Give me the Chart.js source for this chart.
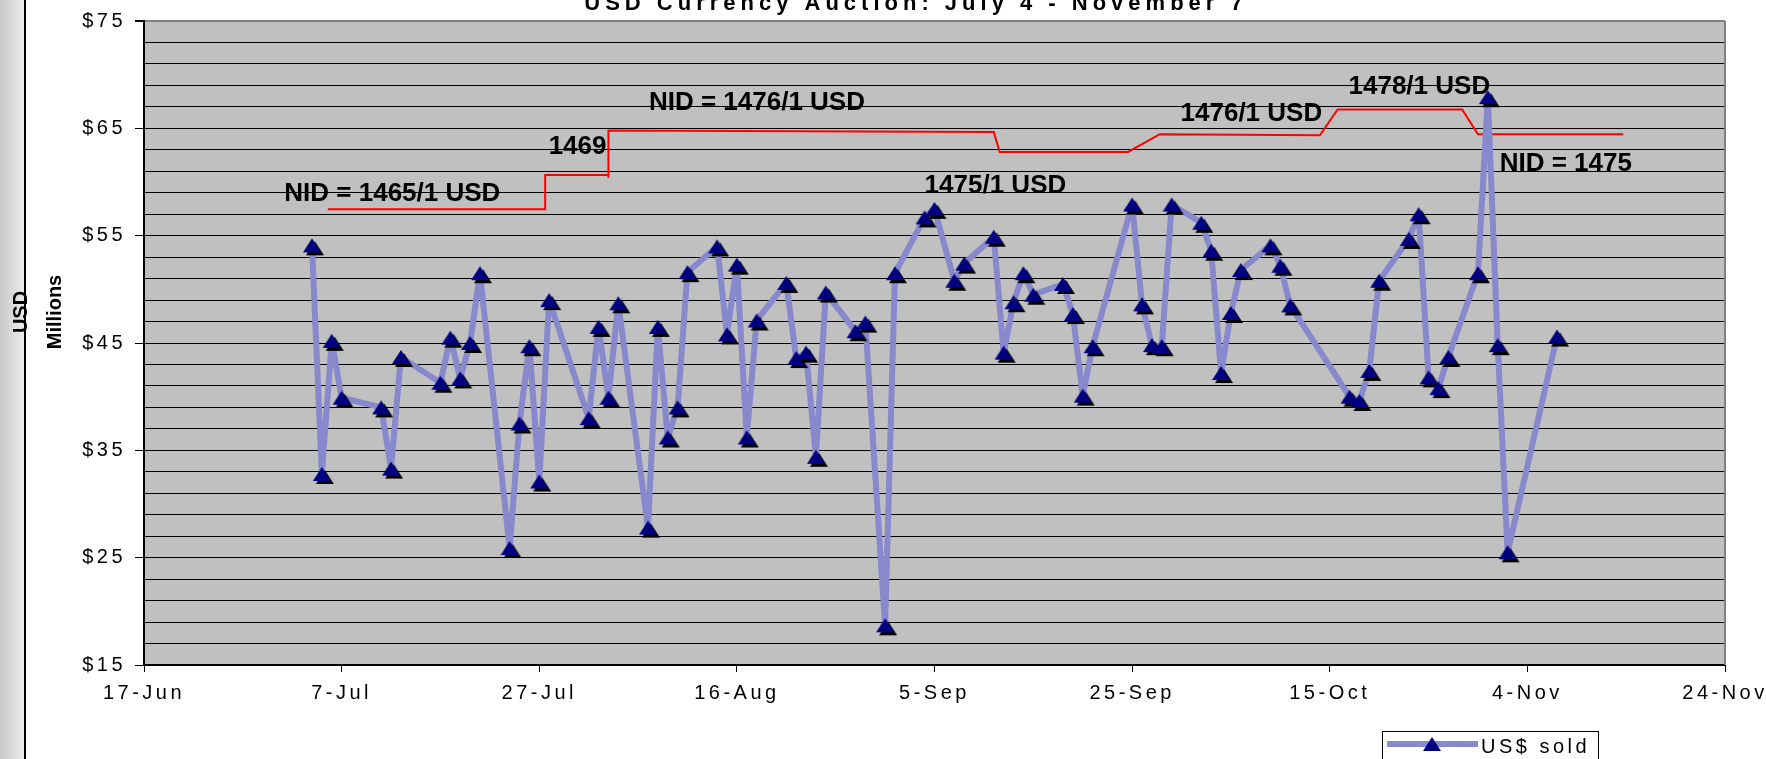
<!DOCTYPE html>
<html>
<head>
<meta charset="utf-8">
<title>USD Currency Auction</title>
<script src="https://cdn.jsdelivr.net/npm/chart.js@4"></script>
<style>
  html, body { margin: 0; padding: 0; background: #fff; }
  canvas { display: block; }
</style>
</head>
<body>
<canvas id="chartAuction" width="1766" height="759"></canvas>
<script>
const startDate = "2005-06-17";
const xTickLabels = ["17-Jun", "7-Jul", "27-Jul", "16-Aug", "5-Sep", "25-Sep", "15-Oct", "4-Nov", "24-Nov"];
const yLabelValues = [15, 25, 35, 45, 55, 65, 75];

const auctionDates = [
  "2005-07-04", "2005-07-05", "2005-07-06", "2005-07-07", "2005-07-11", "2005-07-12", "2005-07-13",
  "2005-07-17", "2005-07-18", "2005-07-19", "2005-07-20", "2005-07-21",
  "2005-07-24", "2005-07-25", "2005-07-26", "2005-07-27", "2005-07-28",
  "2005-08-01", "2005-08-02", "2005-08-03", "2005-08-04",
  "2005-08-07", "2005-08-08", "2005-08-09", "2005-08-10", "2005-08-11",
  "2005-08-14", "2005-08-15", "2005-08-16", "2005-08-17", "2005-08-18",
  "2005-08-21", "2005-08-22", "2005-08-23", "2005-08-24", "2005-08-25",
  "2005-08-28", "2005-08-29", "2005-08-31", "2005-09-01",
  "2005-09-04", "2005-09-05", "2005-09-07", "2005-09-08",
  "2005-09-11", "2005-09-12", "2005-09-13", "2005-09-14", "2005-09-15",
  "2005-09-18", "2005-09-19", "2005-09-20", "2005-09-21",
  "2005-09-25", "2005-09-26", "2005-09-27", "2005-09-28", "2005-09-29",
  "2005-10-02", "2005-10-03", "2005-10-04", "2005-10-05", "2005-10-06",
  "2005-10-09", "2005-10-10", "2005-10-11",
  "2005-10-17", "2005-10-18", "2005-10-19", "2005-10-20",
  "2005-10-23", "2005-10-24", "2005-10-25", "2005-10-26", "2005-10-27",
  "2005-10-30", "2005-10-31", "2005-11-01", "2005-11-02", "2005-11-07"
];
// US$ sold, millions
const usdSold = [
  54.1, 32.8, 45.2, 39.9, 39.0, 33.3, 43.7,
  41.3, 45.5, 41.7, 45.0, 51.5,
  25.9, 37.5, 44.7, 32.1, 49.0,
  38.0, 46.5, 39.9, 48.7,
  27.8, 46.5, 36.2, 39.0, 51.6,
  54.0, 45.8, 52.3, 36.2, 47.1,
  50.6, 43.6, 44.1, 34.4, 49.7,
  46.1, 46.9, 18.7, 51.5,
  56.7, 57.5, 50.8, 52.4,
  54.9, 44.1, 48.8, 51.5, 49.5,
  50.5, 47.7, 40.1, 44.7,
  57.9, 48.6, 44.8, 44.7, 57.9,
  56.2, 53.6, 42.2, 47.8, 51.8,
  54.1, 52.2, 48.5,
  40.0, 39.6, 42.4, 50.8,
  54.7, 57.0, 41.8, 40.8, 43.7,
  51.5, 67.9, 44.8, 25.5, 45.6
];

// hand drawn NID rate line: days after 17-Jun, level on the $ axis
const nidDays = [18.6, 40.6, 40.6, 47.0, 47.0, 47.0, 86.0, 86.6, 99.6, 102.8, 119.0, 120.8, 133.4, 135.0, 149.7];
const nidLevels = [57.45, 57.45, 60.65, 60.65, 60.4, 64.8, 64.65, 62.8, 62.8, 64.45, 64.35, 66.75, 66.75, 64.45, 64.45];

const nidNotes = ["NID = 1465/1 USD", "1469", "NID = 1476/1 USD", "1475/1 USD", "1476/1 USD", "1478/1 USD", "NID = 1475"];
const noteDays = [14.2, 40.95, 51.1, 79.0, 104.9, 121.9, 137.2];
const noteLevels = [58.25, 62.6, 66.73, 59.0, 65.65, 68.18, 61.0];

const dayMs = 86400000;
const toDay = (d) => (Date.parse(d) - Date.parse(startDate)) / dayMs;

function makeMarker(shadow) {
  const c = document.createElement("canvas");
  c.width = 32;
  c.height = 32;
  const g = c.getContext("2d");
  const tri = (dx, dy, color) => {
    g.fillStyle = color;
    g.beginPath();
    g.moveTo(16 + dx, 9 + dy);
    g.lineTo(25 + dx, 23 + dy);
    g.lineTo(7 + dx, 23 + dy);
    g.closePath();
    g.fill();
  };
  if (shadow) tri(3, 3, "#000");
  tri(0, 0, "#000080");
  return c;
}

const FONT = '"Liberation Sans", Arial, sans-serif';
const TICK_SPACING = "3.5px";

const decorPlugin = {
  id: "decor",
  beforeLayout(chart) {
    chart.ctx.letterSpacing = TICK_SPACING;
  },
  beforeDraw(chart) {
    const { ctx, chartArea: a } = chart;
    ctx.save();
    ctx.fillStyle = "#fff";
    ctx.fillRect(0, 0, chart.width, chart.height);
    const grad = ctx.createLinearGradient(0, 0, 24, 0);
    grad.addColorStop(0, "#c8c8c8");
    grad.addColorStop(1, "#ebebeb");
    ctx.fillStyle = grad;
    ctx.fillRect(0, 0, 24, chart.height);
    ctx.fillStyle = "#000";
    ctx.fillRect(24, 0, 2, chart.height);
    ctx.fillStyle = "#c0c0c0";
    ctx.fillRect(a.left, a.top, a.right - a.left, a.bottom - a.top);
    ctx.restore();
    ctx.letterSpacing = TICK_SPACING;
  },
  afterDraw(chart) {
    const { ctx, chartArea: a, scales } = chart;
    ctx.save();
    // right edge of plot
    ctx.strokeStyle = "#808080";
    ctx.lineWidth = 2;
    ctx.beginPath();
    ctx.moveTo(a.right, a.top);
    ctx.lineTo(a.right, a.bottom);
    ctx.stroke();

    ctx.fillStyle = "#000";
    ctx.letterSpacing = "0px";
    ctx.textAlign = "left";
    ctx.textBaseline = "alphabetic";
    ctx.font = "bold 26px " + FONT;
    nidNotes.forEach((t, i) => {
      ctx.fillText(t, scales.x.getPixelForValue(noteDays[i]), scales.y.getPixelForValue(noteLevels[i]));
    });

    // axis titles
    ctx.font = "bold 20px " + FONT;
    ctx.textAlign = "center";
    ctx.textBaseline = "middle";
    [["USD", 21], ["Millions", 55]].forEach(([t, x]) => {
      ctx.save();
      ctx.translate(x, 312);
      ctx.rotate(-Math.PI / 2);
      ctx.fillText(t, 0, 0);
      ctx.restore();
    });

    // title
    ctx.font = "bold 22px " + FONT;
    ctx.letterSpacing = "5px";
    ctx.textBaseline = "alphabetic";
    ctx.fillText("USD Currency Auction: July 4 - November 7", 916, 10);

    // legend
    ctx.fillStyle = "#fff";
    ctx.fillRect(1382, 731, 216, 50);
    ctx.strokeStyle = "#000";
    ctx.lineWidth = 1;
    ctx.strokeRect(1382.5, 731.5, 216, 50);
    ctx.strokeStyle = "#8888cc";
    ctx.lineWidth = 6;
    ctx.beginPath();
    ctx.moveTo(1387, 744);
    ctx.lineTo(1478, 744);
    ctx.stroke();
    ctx.drawImage(legendMarker, 1432 - 16, 744 - 16);
    ctx.fillStyle = "#000";
    ctx.font = "20px " + FONT;
    ctx.letterSpacing = "3.5px";
    ctx.textAlign = "left";
    ctx.fillText("US$ sold", 1481, 753);
    ctx.restore();
  }
};

const marker = makeMarker(true);
const legendMarker = makeMarker(false);

document.addEventListener("DOMContentLoaded", () => {
  const ctx = document.getElementById("chartAuction").getContext("2d");
  Chart.defaults.font.family = FONT;
  Chart.defaults.color = "#000";

  new Chart(ctx, {
    type: "line",
    data: {
      datasets: [
        {
          label: "US$ sold",
          data: auctionDates.map((d, i) => ({ x: toDay(d), y: usdSold[i] })),
          borderColor: "#8888cc",
          borderWidth: 6,
          borderJoinStyle: "round",
          pointStyle: marker,
          pointRadius: 9,
          tension: 0,
        },
        {
          label: "NID",
          data: nidDays.map((d, i) => ({ x: d, y: nidLevels[i] })),
          borderColor: "#ff0000",
          borderWidth: 2,
          pointRadius: 0,
          tension: 0,
        },
      ],
    },
    options: {
      responsive: false,
      devicePixelRatio: 1,
      animation: false,
      layout: { padding: { top: 20, right: 41, left: 0, bottom: 0 } },
      plugins: {
        legend: { display: false },
        tooltip: { enabled: false },
      },
      scales: {
        x: {
          type: "linear",
          min: 0,
          max: 160,
          afterFit: (s) => {
            s.height = 94;
            s.paddingLeft = 0;
            s.paddingRight = 0;
          },
          grid: { drawOnChartArea: false, tickLength: 7, color: "#000", tickColor: "#000" },
          border: { color: "#000", width: 2 },
          ticks: {
            stepSize: 20,
            autoSkip: false,
            maxRotation: 0,
            padding: 9,
            font: { size: 20 },
            callback: (v, i) => xTickLabels[i],
          },
        },
        y: {
          min: 15,
          max: 75,
          afterFit: (s) => { s.width = 144; },
          afterBuildTicks: (s) => {
            const t = [];
            for (let v = yLabelValues[0]; v <= yLabelValues[yLabelValues.length - 1]; v += 2) t.push({ value: v });
            s.ticks = t;
          },
          grid: {
            tickLength: 9,
            lineWidth: (c) => (c.tick && c.tick.value === 75 ? 2 : 1),
            color: (c) => (c.tick && c.tick.value === 75 ? "#808080" : "#000"),
            tickColor: (c) => (c.tick && yLabelValues.includes(c.tick.value) ? "#000" : "rgba(0,0,0,0)"),
          },
          border: { color: "#000", width: 2 },
          ticks: {
            autoSkip: false,
            padding: 9,
            font: { size: 20 },
            callback: (v) => (yLabelValues.includes(v) ? "$" + v : ""),
          },
        },
      },
    },
    plugins: [decorPlugin],
  });
});
</script>
</body>
</html>
